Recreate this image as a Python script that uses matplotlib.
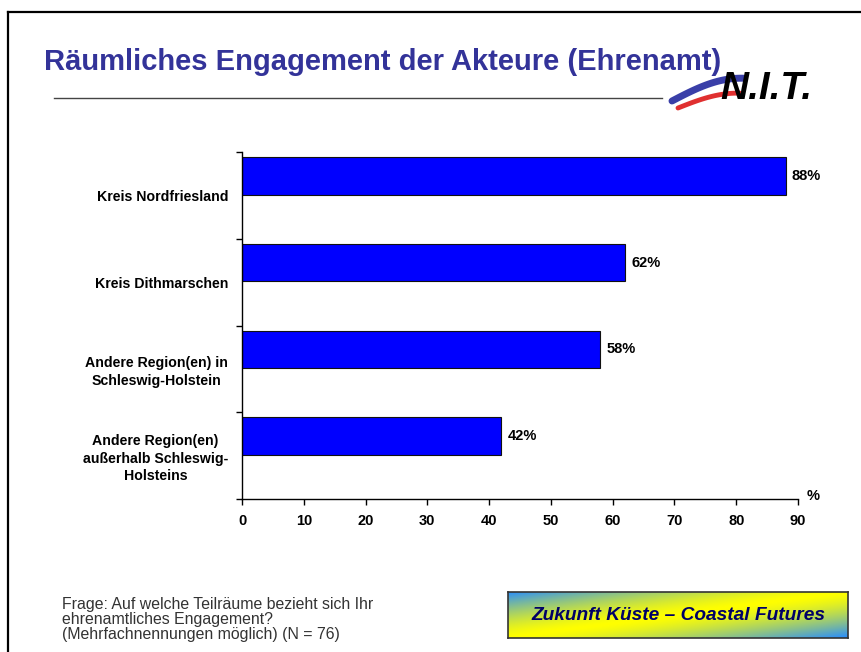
import matplotlib
matplotlib.use("Agg")
import matplotlib.pyplot as plt
import numpy as np
from matplotlib.lines import Line2D

categories = ["Kreis Nordfriesland", "Kreis Dithmarschen",
              "Andere Region(en) in\nSchleswig-Holstein",
              "Andere Region(en)\naußerhalb Schleswig-\nHolsteins"]
values = [88, 62, 58, 42]
xticks = [0, 10, 20, 30, 40, 50, 60, 70, 80, 90]

W, H = 861, 652
fig = plt.figure(figsize=(W / 100, H / 100), dpi=100)
fig.patch.set_facecolor("white")

def fx(px):
    return np.asarray(px) / W

def fy(py):
    return 1 - np.asarray(py) / H

BOLD = dict(family=["Liberation Sans", "DejaVu Sans"], fontweight="bold")
NARROW = ["Liberation Sans Narrow", "Liberation Sans", "DejaVu Sans"]

# slide border (top and left)
fig.add_artist(Line2D([fx(8), fx(8)], [fy(12), 0], color="black", lw=1.6))
fig.add_artist(Line2D([fx(8), 1], [fy(12), fy(12)], color="black", lw=1.6))

# title
fig.text(fx(44), fy(62), "Räumliches Engagement der Akteure (Ehrenamt)",
         family=NARROW, fontweight="bold", fontsize=21, color="#333399",
         ha="left", va="center")
fig.add_artist(Line2D([fx(54), fx(662)], [fy(98), fy(98)], color="#444444", lw=1.0))

# simple N.I.T. logo
t = np.linspace(0, 1, 50)
bx = 672 + 72 * t
by = 101 - 20 * np.sin(np.pi * 0.55 * t) - 3 * t
fig.add_artist(Line2D(fx(bx), fy(by), color="#3a3fa8", lw=5, solid_capstyle="round"))
rx = 678 + 62 * t
ry = 108 - 13 * np.sin(np.pi * 0.55 * t) - 2 * t
fig.add_artist(Line2D(fx(rx), fy(ry), color="#e03030", lw=3.5, solid_capstyle="round"))
fig.text(fx(720), fy(89), "N.I.T.", family=["Liberation Sans", "DejaVu Sans"],
         fontweight="bold", fontstyle="italic", fontsize=28, color="black",
         ha="left", va="center")

# main axes
ax = fig.add_axes([fx(242), fy(499), fx(798) - fx(242), fy(152) - fy(499)])
pos = np.arange(len(categories))
ax.barh(pos - 0.225, values, height=0.43, color="#0000FF", edgecolor="#111111", lw=0.8)
ax.set_xlim(0, 90)
ax.set_ylim(len(categories) - 0.5, -0.5)

for p, v in zip(pos, values):
    ax.annotate(f"{v}%", (v, p - 0.225), xytext=(4.5, 0), textcoords="offset points",
                ha="left", va="center", fontsize=10.5, **BOLD)

ax.set_xticks(xticks)
ax.set_xticklabels([str(x) for x in xticks], fontsize=10.5, **BOLD)
ax.set_yticks(np.arange(len(categories) + 1) - 0.5)
ax.set_yticklabels([])
ax.set_yticks(pos, minor=True)
ax.set_yticklabels(categories, minor=True, fontsize=10.2, multialignment="center",
                   linespacing=1.3, **BOLD)
ax.tick_params(axis="y", which="minor", length=0, pad=10)
ax.tick_params(axis="y", which="major", direction="out", length=4, width=1)
ax.tick_params(axis="x", direction="out", length=4, width=1, pad=7)
for s in ["top", "right"]:
    ax.spines[s].set_visible(False)
for s in ["left", "bottom"]:
    ax.spines[s].set_linewidth(1.0)
fig.text(fx(813), fy(496), "%", ha="center", va="center", fontsize=10.5, **BOLD)

# footnote
fig.text(fx(62), fy(597), "Frage: Auf welche Teilräume bezieht sich Ihr\nehrenamtliches Engagement?\n(Mehrfachnennungen möglich) (N = 76)",
         family=NARROW, fontsize=11.4, color="#333333", ha="left", va="top", linespacing=1.02)

# gradient box
bax = fig.add_axes([fx(508), fy(638), fx(848) - fx(508), fy(592) - fy(638)])
gx, gy = np.meshgrid(np.linspace(0, 1, 340), np.linspace(0, 1, 46))
d = (gx + gy) / 2
g = np.clip(np.abs(d - 0.5) * 2, 0, 1) ** 1.4
blue = np.array([0.15, 0.55, 1.0])
yellow = np.array([1.0, 1.0, 0.0])
img = yellow[None, None, :] * (1 - g[..., None]) + blue[None, None, :] * g[..., None]
bax.imshow(img, aspect="auto", extent=[0, 1, 0, 1], origin="upper")
bax.set_xlim(0, 1)
bax.set_ylim(0, 1)
bax.set_xticks([])
bax.set_yticks([])
for s in bax.spines.values():
    s.set_color("#333333")
    s.set_linewidth(1.2)
bax.text(0.5, 0.48, "Zukunft Küste – Coastal Futures", ha="center", va="center",
         family=["Liberation Sans", "DejaVu Sans"], fontweight="bold", fontstyle="italic",
         fontsize=13.8, color="#000066")

fig.savefig("out.png", dpi=100)
